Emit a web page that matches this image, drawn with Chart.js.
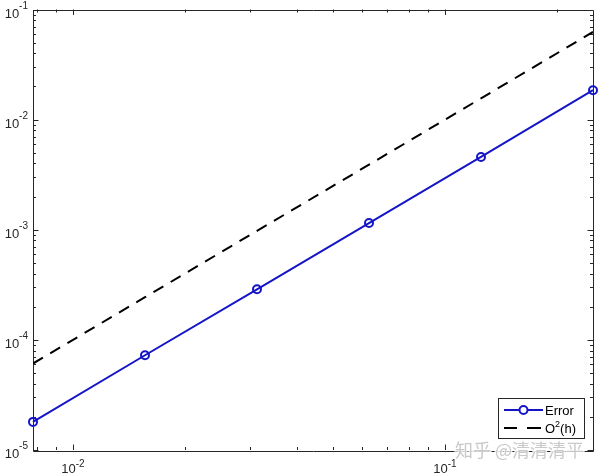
<!DOCTYPE html>
<html><head><meta charset="utf-8">
<script src="https://cdn.jsdelivr.net/npm/chart.js@4"></script>
<style>body{margin:0;background:#fff}canvas{display:block}</style>
</head><body>
<canvas id="c" width="600" height="476"></canvas>
<script>
const hValues = [0.0078125, 0.015625, 0.03125, 0.0625, 0.125, 0.25];
const errorValues = [1.8e-5, 7.25e-5, 2.88e-4, 1.15e-3, 4.58e-3, 1.85e-2];
const orderValues = [6.1e-5, 2.44e-4, 9.77e-4, 3.9e-3, 1.56e-2, 6.25e-2];
const xTickExponents = ['-2', '-1'];
const yTickExponents = ['-5', '-4', '-3', '-2', '-1'];
const seriesNames = ['Error', 'O^2(h)'];
const watermarkText = '知乎 @清清清平';

const AXIS = '#262626';
const FONT = '"Liberation Sans", Arial, Helvetica, sans-serif';

function drawPow(ctx, base, exp, x, yBase, yExp, align) {
  ctx.font = '13px ' + FONT;
  const w1 = ctx.measureText(base).width;
  ctx.font = '10px ' + FONT;
  const w2 = ctx.measureText(exp).width;
  const total = w1 + w2;
  let sx = align === 'right' ? x - total : x - total / 2;
  ctx.textAlign = 'left';
  ctx.textBaseline = 'alphabetic';
  ctx.font = '13px ' + FONT;
  ctx.fillText(base, sx, yBase);
  ctx.font = '10px ' + FONT;
  ctx.fillText(exp, sx + w1, yExp);
}

const axesPlugin = {
  id: 'matlabAxes',
  beforeDatasetsDraw(chart) {
    const ctx = chart.ctx;
    const a = chart.chartArea;
    const xs = chart.scales.x, ys = chart.scales.y;
    ctx.save();
    ctx.strokeStyle = AXIS;
    ctx.lineWidth = 1;
    ctx.beginPath();
    ctx.rect(Math.round(a.left) + 0.5, Math.round(a.top) + 0.5, Math.round(a.right - a.left), Math.round(a.bottom - a.top));
    ctx.stroke();
    const xmin = xs.min, xmax = xs.max;
    ctx.beginPath();
    for (let e = -3; e <= 0; e++) {
      for (let k = 1; k <= 9; k++) {
        const v = k * Math.pow(10, e);
        if (v < xmin * 0.999 || v > xmax * 1.001) continue;
        const px = Math.round(xs.getPixelForValue(v)) + 0.5;
        const len = k === 1 ? 5.5 : 3;
        ctx.moveTo(px, a.bottom); ctx.lineTo(px, a.bottom - len);
        ctx.moveTo(px, a.top); ctx.lineTo(px, a.top + len);
      }
    }
    const ymin = ys.min, ymax = ys.max;
    for (let e = -6; e <= 0; e++) {
      for (let k = 1; k <= 9; k++) {
        const v = k * Math.pow(10, e);
        if (v < ymin * 0.999 || v > ymax * 1.001) continue;
        const py = Math.round(ys.getPixelForValue(v)) + 0.5;
        const len = k === 1 ? 5.5 : 3;
        ctx.moveTo(a.left, py); ctx.lineTo(a.left + len, py);
        ctx.moveTo(a.right, py); ctx.lineTo(a.right - len, py);
      }
    }
    ctx.stroke();
    ctx.fillStyle = AXIS;
    xTickExponents.forEach(ex => {
      const px = xs.getPixelForValue(Math.pow(10, Number(ex)));
      drawPow(ctx, '10', ex, px, a.bottom + 23, a.bottom + 17, 'center');
    });
    yTickExponents.forEach(ex => {
      const py = ys.getPixelForValue(Math.pow(10, Number(ex)));
      drawPow(ctx, '10', ex, a.left - 5, py + 8, py - 1, 'right');
    });
    ctx.restore();
  },
  afterDraw(chart) {
    const ctx = chart.ctx;
    ctx.save();
    const bx = 498.5, by = 398.5, bw = 86, bh = 40;
    ctx.fillStyle = '#fff';
    ctx.fillRect(bx, by, bw, bh);
    ctx.strokeStyle = AXIS;
    ctx.lineWidth = 1;
    ctx.strokeRect(bx, by, bw, bh);
    const ds = chart.data.datasets;
    const r1 = 410, r2 = 428;
    ctx.strokeStyle = ds[0].borderColor;
    ctx.lineWidth = 2;
    ctx.beginPath(); ctx.moveTo(504, r1); ctx.lineTo(543, r1); ctx.stroke();
    ctx.beginPath(); ctx.arc(523.5, r1, 4, 0, Math.PI * 2); ctx.fillStyle = '#fff'; ctx.fill(); ctx.stroke();
    ctx.strokeStyle = ds[1].borderColor;
    ctx.beginPath();
    ctx.moveTo(504, r2); ctx.lineTo(517, r2);
    ctx.moveTo(527, r2); ctx.lineTo(541, r2);
    ctx.stroke();
    ctx.fillStyle = '#000';
    ctx.font = '13px ' + FONT;
    ctx.textAlign = 'left';
    ctx.textBaseline = 'alphabetic';
    ctx.fillText(seriesNames[0], 545, r1 + 5);
    const parts = seriesNames[1].match(/^(.*)\^(\d)(.*)$/);
    let x = 545;
    ctx.fillText(parts[1], x, r2 + 5); x += ctx.measureText(parts[1]).width;
    ctx.font = '9px ' + FONT;
    ctx.fillText(parts[2], x, r2 - 1); x += ctx.measureText(parts[2]).width;
    ctx.font = '13px ' + FONT;
    ctx.fillText(parts[3], x, r2 + 5);
    ctx.font = '18px "Noto Sans CJK SC", sans-serif';
    ctx.lineWidth = 3;
    ctx.strokeStyle = 'rgba(255,255,255,0.85)';
    ctx.strokeText(watermarkText, 455, 457);
    ctx.fillStyle = 'rgba(195,195,195,0.9)';
    ctx.fillText(watermarkText, 455, 457);
    ctx.restore();
  }
};

new Chart(document.getElementById('c'), {
  type: 'line',
  data: {
    datasets: [
      {
        label: seriesNames[0],
        data: hValues.map((x, i) => ({ x, y: errorValues[i] })),
        borderColor: '#1515c8',
        borderWidth: 2,
        pointRadius: 4,
        pointBorderWidth: 2,
        pointBackgroundColor: 'rgba(255,255,255,0)',
        pointBorderColor: '#1515c8',
        tension: 0,
        clip: false
      },
      {
        label: seriesNames[1],
        data: hValues.map((x, i) => ({ x, y: orderValues[i] })),
        borderColor: '#000000',
        borderWidth: 2,
        borderDash: [11.5, 8.5],
        pointRadius: 0,
        tension: 0
      }
    ]
  },
  options: {
    responsive: false,
    animation: false,
    events: [],
    layout: { padding: { left: 33, right: 7, top: 9.5, bottom: 26 } },
    scales: {
      x: { type: 'logarithmic', min: hValues[0], max: hValues[hValues.length - 1], display: false },
      y: { type: 'logarithmic', min: 1e-5, max: 1e-1, display: false }
    },
    plugins: { legend: { display: false }, tooltip: { enabled: false } }
  },
  plugins: [axesPlugin]
});
</script>
</body></html>
